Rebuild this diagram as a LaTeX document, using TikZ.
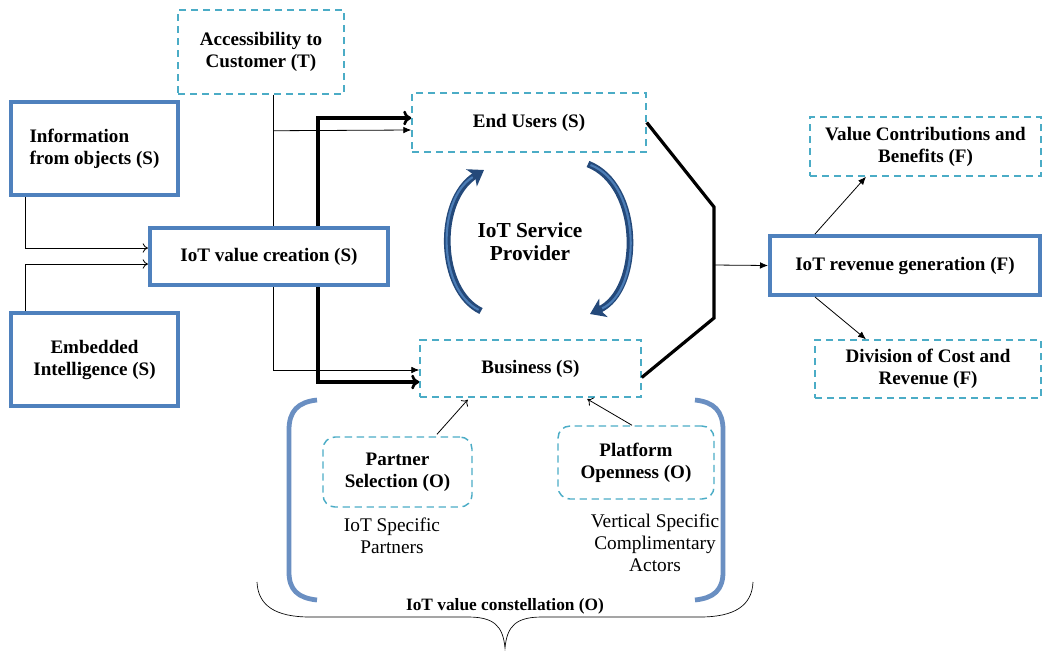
\documentclass[tikz,border=0pt]{standalone}
\usepackage{fontspec}
\setmainfont{Liberation Serif}
\usetikzlibrary{calc,arrows.meta}
\definecolor{solidblue}{HTML}{4F81BD}
\definecolor{dashblue}{HTML}{4BACC6}
\definecolor{bracketblue}{HTML}{6A8FC2}
\definecolor{cyclenavy}{HTML}{24497A}
\definecolor{cyclelight}{HTML}{4C7DB6}
\tikzset{
  basefont/.style={font=\fontsize{14.3}{16.5}\selectfont\bfseries},
  solidbox/.style={draw=solidblue, line width=3pt, basefont, align=center, inner sep=0pt},
  dashbox/.style={draw=dashblue, line width=1.1pt, dash pattern=on 5.5pt off 3.5pt, basefont, align=center, inner sep=0pt},
  thinarrow/.style={draw=black, line width=0.6pt, -{Latex[length=6pt,width=5pt]}},
  openarrow/.style={draw=black, line width=0.6pt, -{To[length=4pt,width=7pt]}},
  thickarrow/.style={draw=black, line width=2.4pt, -{To[length=6pt,width=11pt,line width=2pt]}},
  plainline/.style={draw=black, line width=0.6pt},
  cyclearrow/.style={draw=cyclenavy, line width=5pt, -{Stealth[length=11pt,width=15pt,inset=3pt]}},
  cycleshine/.style={draw=cyclelight, line width=1.6pt, shorten >=10pt, shorten <=2pt},
  bracket/.style={draw=bracketblue, line width=3.6pt},
  note/.style={font=\fontsize{14.5}{16.5}\selectfont, align=center, inner sep=0pt},
}
\begin{document}
\begin{tikzpicture}[x=0.75pt,y=-0.75pt]
\useasboundingbox (0,0) rectangle (1043,651);

% ---- boxes ----
\node[dashbox, minimum width=124.5pt, minimum height=63pt] (acc) at (261,52) {Accessibility to\\Customer (T)};
\node[solidbox, minimum width=125.25pt, minimum height=69.75pt, align=left] (info) at (94.5,148.5) {Information\\from objects (S)};
\node[solidbox, minimum width=125.25pt, minimum height=69.75pt] (emb) at (94.5,359.5) {Embedded\\Intelligence (S)};
\node[solidbox, minimum width=178.5pt, minimum height=42.75pt] (ivc) at (269,256.5) {IoT value creation (S)};
\node[dashbox, minimum width=175.5pt, minimum height=44.25pt] (eu) at (529,122.5) {End Users (S)};
\node[dashbox, minimum width=165.75pt, minimum height=42.75pt] (bus) at (530.5,368.5) {Business (S)};
\node[solidbox, minimum width=202.5pt, minimum height=44.25pt] (rev) at (905,265.5) {IoT revenue generation (F)};
\node[dashbox, minimum width=173.25pt, minimum height=44.25pt] (vcb) at (925.5,146.5) {Value Contributions and\\Benefits (F)};
\node[dashbox, minimum width=169.5pt, minimum height=43.5pt] (dcr) at (928,369) {Division of Cost and\\Revenue (F)};
\node[dashbox, rounded corners=9pt, minimum width=111.75pt, minimum height=52.5pt] (ps) at (397.5,472) {Partner\\Selection (O)};
\node[dashbox, rounded corners=9pt, minimum width=117pt, minimum height=54.75pt] (po) at (636,462.5) {Platform\\Openness (O)};

% ---- free texts ----
\node[font=\fontsize{16}{17.3}\selectfont\bfseries, align=center, inner sep=0pt] (isp) at (530,242) {IoT Service\\Provider};
\node[note] (isptxt) at (392,536) {IoT Specific\\Partners};
\node[note] (vsca) at (655,543) {Vertical Specific\\Complimentary\\Actors};
\node[font=\fontsize{13}{15}\selectfont\bfseries, inner sep=0pt] (ivcon) at (505,606) {IoT value constellation (O)};

% ---- inputs to value creation ----
\draw[openarrow] ($(info.south west)+(16,0)$) |- ($(ivc.west)+(0,-8.5)$);
\draw[openarrow] ($(emb.north west)+(16,0)$) |- ($(ivc.west)+(0,7.5)$);

% ---- accessibility line and its branches ----
\coordinate (accbranch) at ($(acc.south)+(12,36)$);
\draw[plainline] ($(acc.south)+(12,0)$) -- ($(ivc.north)+(4,0)$);
\draw[thinarrow] (accbranch) -- ($(eu.west)+(0,7.5)$);
\draw[thinarrow] ($(ivc.south)+(4,0)$) |- ($(bus.west)+(0,1.5)$);

% ---- thick links from value creation ----
\draw[thickarrow] ($(ivc.north)+(49,0)$) |- ($(eu.west)+(0,-4.5)$);
\draw[thickarrow] ($(ivc.south)+(49,0)$) |- ($(bus.west)+(0,13.5)$);

% ---- merging polyline to revenue generation ----
\coordinate (kup) at (714,207);
\coordinate (kdown) at (714,318);
\coordinate (kmid) at (714,265);
\draw[draw=black, line width=2.4pt, line join=miter] (eu.east) -- (kup) -- (kdown) -- ($(bus.east)+(0,9)$);
\draw[thinarrow] (kmid) -- (rev.west);

% ---- revenue outputs ----
\draw[thinarrow] ($(rev.north)+(-90,0)$) -- ($(vcb.south)+(-59.5,0)$);
\draw[thinarrow] ($(rev.south)+(-90,0)$) -- ($(dcr.north)+(-62,0)$);

% ---- constellation inputs ----
\draw[openarrow, shorten >=2pt] ($(ps.north)+(39.5,-2)$) -- ($(bus.south)+(-61,0)$);
\draw[openarrow, shorten >=2pt] ($(po.north)+(-4,0)$) -- ($(bus.south)+(54.5,0)$);

% ---- service provider cycle ----
\draw[cyclearrow] (481,311) .. controls (438,290) and (436,200) .. (484,170);
\draw[cycleshine] (481,311) .. controls (438,290) and (436,200) .. (484,170);
\draw[cyclearrow] (588,164) .. controls (642,185) and (642,290) .. (590,314);
\draw[cycleshine] (588,164) .. controls (642,185) and (642,290) .. (590,314);

% ---- constellation brackets ----
\draw[bracket] (317,400) .. controls (298,402) and (289,411) .. (289,430) -- (289,572) .. controls (289,590) and (298,598) .. (317,600);
\draw[bracket] (695,400) .. controls (714,402) and (723,411) .. (723,430) -- (723,572) .. controls (723,590) and (714,598) .. (695,600);

% ---- brace under the constellation ----
\draw[plainline, line width=0.5pt] (257,582) .. controls (258,606) and (276,617) .. (310,617) -- (468,617) .. controls (494,617) and (503,626) .. (505,648)
  .. controls (507,626) and (516,617) .. (542,617) -- (700,617) .. controls (734,617) and (752,606) .. (753,582);
\end{tikzpicture}
\end{document}
